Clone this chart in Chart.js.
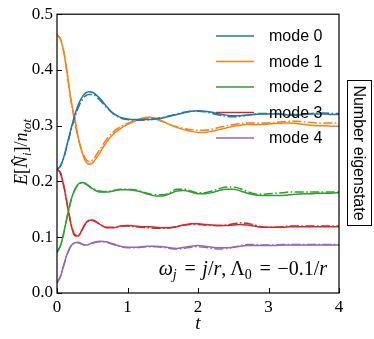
<!DOCTYPE html>
<html>
<head>
<meta charset="utf-8">
<script src="https://cdn.jsdelivr.net/npm/chart.js@4"></script>
<style>
  html, body { margin: 0; padding: 0; background: #fff; }
  #wrap { width: 374px; height: 339px; position: relative; }
</style>
</head>
<body>
<div id="wrap"><canvas id="chart" width="374" height="339"></canvas></div>
<script>
// time axis (t)
var times = [0, 0.05, 0.1, 0.15, 0.2, 0.25, 0.3, 0.35, 0.4, 0.45, 0.5,
  0.6, 0.7, 0.8, 0.9, 1.0, 1.1, 1.2, 1.3, 1.4, 1.5,
  1.6, 1.7, 1.8, 1.9, 2.0, 2.1, 2.2, 2.3, 2.4, 2.5,
  2.6, 2.7, 2.8, 2.9, 3.0, 3.1, 3.2, 3.3, 3.4, 3.5,
  3.6, 3.7, 3.8, 3.9, 4.0];

var modeLabels = ["mode 0", "mode 1", "mode 2", "mode 3", "mode 4"];
var modeColors = ["#1f77b4", "#ff7f0e", "#2ca02c", "#d62728", "#9467bd"];
var xTicks = [0, 1, 2, 3, 4];
var yTicks = [0.0, 0.1, 0.2, 0.3, 0.4, 0.5];

// solid curves
var mode0 = [0.222, 0.228, 0.245, 0.270, 0.295, 0.318, 0.337, 0.350, 0.358, 0.361, 0.360,
  0.350, 0.335, 0.322, 0.315, 0.312, 0.311, 0.311, 0.311, 0.312, 0.314,
  0.317, 0.320, 0.323, 0.326, 0.327, 0.326, 0.324, 0.321, 0.319, 0.318,
  0.318, 0.319, 0.320, 0.321, 0.321, 0.321, 0.320, 0.319, 0.319, 0.320,
  0.321, 0.321, 0.321, 0.320, 0.320];
var mode1 = [0.463, 0.455, 0.430, 0.390, 0.345, 0.315, 0.280, 0.255, 0.238, 0.231, 0.233,
  0.250, 0.270, 0.285, 0.295, 0.302, 0.308, 0.313, 0.315, 0.313, 0.308,
  0.302, 0.297, 0.293, 0.290, 0.288, 0.288, 0.290, 0.293, 0.296, 0.299,
  0.301, 0.302, 0.302, 0.302, 0.303, 0.304, 0.305, 0.305, 0.304, 0.302,
  0.301, 0.300, 0.300, 0.299, 0.299];
var mode2 = [0.073, 0.085, 0.110, 0.140, 0.167, 0.185, 0.195, 0.198, 0.197, 0.192, 0.187,
  0.181, 0.181, 0.183, 0.185, 0.185, 0.184, 0.181, 0.177, 0.174, 0.174,
  0.178, 0.183, 0.184, 0.181, 0.178, 0.178, 0.180, 0.184, 0.186, 0.186,
  0.183, 0.179, 0.176, 0.175, 0.175, 0.175, 0.175, 0.176, 0.177, 0.178,
  0.178, 0.179, 0.179, 0.179, 0.180];
var mode3 = [0.222, 0.215, 0.190, 0.155, 0.122, 0.103, 0.102, 0.112, 0.124, 0.130, 0.131,
  0.124, 0.117, 0.117, 0.120, 0.121, 0.120, 0.119, 0.119, 0.118, 0.117,
  0.117, 0.119, 0.122, 0.124, 0.124, 0.123, 0.122, 0.121, 0.121, 0.122,
  0.123, 0.122, 0.120, 0.118, 0.118, 0.118, 0.118, 0.119, 0.119, 0.119,
  0.119, 0.119, 0.119, 0.119, 0.119];
var mode4 = [0.018, 0.030, 0.052, 0.072, 0.085, 0.090, 0.091, 0.088, 0.086, 0.087, 0.090,
  0.093, 0.092, 0.088, 0.084, 0.082, 0.082, 0.083, 0.084, 0.084, 0.083,
  0.081, 0.080, 0.082, 0.084, 0.085, 0.084, 0.082, 0.081, 0.081, 0.082,
  0.084, 0.085, 0.085, 0.085, 0.085, 0.085, 0.086, 0.086, 0.086, 0.086,
  0.086, 0.086, 0.086, 0.086, 0.086];

// dash-dot curves
var mode0dd = [0.222, 0.228, 0.244, 0.268, 0.292, 0.314, 0.332, 0.345, 0.353, 0.356, 0.356,
  0.347, 0.333, 0.321, 0.314, 0.311, 0.310, 0.310, 0.311, 0.313, 0.315,
  0.318, 0.321, 0.324, 0.326, 0.326, 0.325, 0.322, 0.319, 0.317, 0.316,
  0.317, 0.319, 0.321, 0.322, 0.322, 0.322, 0.321, 0.320, 0.320, 0.321,
  0.322, 0.323, 0.323, 0.322, 0.322];
var mode1dd = [0.463, 0.455, 0.430, 0.388, 0.343, 0.308, 0.278, 0.256, 0.242, 0.236, 0.238,
  0.256, 0.275, 0.289, 0.298, 0.304, 0.309, 0.313, 0.314, 0.312, 0.307,
  0.302, 0.298, 0.295, 0.293, 0.292, 0.292, 0.294, 0.297, 0.300, 0.302,
  0.304, 0.305, 0.305, 0.305, 0.305, 0.306, 0.307, 0.308, 0.308, 0.307,
  0.306, 0.305, 0.305, 0.305, 0.305];
var mode2dd = [0.073, 0.085, 0.110, 0.140, 0.166, 0.184, 0.194, 0.197, 0.196, 0.192, 0.188,
  0.183, 0.182, 0.184, 0.186, 0.186, 0.185, 0.182, 0.178, 0.176, 0.176,
  0.180, 0.186, 0.186, 0.183, 0.180, 0.180, 0.183, 0.187, 0.190, 0.190,
  0.187, 0.182, 0.178, 0.177, 0.178, 0.179, 0.180, 0.181, 0.181, 0.181,
  0.181, 0.181, 0.181, 0.181, 0.181];
var mode3dd = [0.222, 0.215, 0.190, 0.156, 0.124, 0.105, 0.103, 0.112, 0.123, 0.129, 0.130,
  0.124, 0.118, 0.118, 0.120, 0.120, 0.119, 0.118, 0.117, 0.116, 0.116,
  0.117, 0.119, 0.122, 0.123, 0.123, 0.122, 0.121, 0.121, 0.122, 0.124,
  0.126, 0.125, 0.122, 0.119, 0.118, 0.118, 0.119, 0.120, 0.120, 0.120,
  0.120, 0.120, 0.120, 0.120, 0.120];
var mode4dd = [0.018, 0.030, 0.051, 0.071, 0.084, 0.089, 0.090, 0.088, 0.086, 0.087, 0.089,
  0.092, 0.091, 0.087, 0.083, 0.081, 0.081, 0.082, 0.083, 0.083, 0.082,
  0.080, 0.079, 0.080, 0.082, 0.083, 0.082, 0.080, 0.079, 0.080, 0.082,
  0.085, 0.087, 0.087, 0.086, 0.086, 0.086, 0.087, 0.087, 0.087, 0.087,
  0.087, 0.087, 0.087, 0.087, 0.087];

var solid = [mode0, mode1, mode2, mode3, mode4];
var dashdot = [mode0dd, mode1dd, mode2dd, mode3dd, mode4dd];

function pts(arr) {
  return arr.map(function (v, i) { return { x: times[i], y: v }; });
}

var datasets = [];
for (var i = 0; i < 5; i++) {
  datasets.push({
    label: modeLabels[i],
    data: pts(solid[i]),
    borderColor: modeColors[i],
    borderWidth: 1.5,
    pointRadius: 0,
    cubicInterpolationMode: 'monotone',
    fill: false
  });
  datasets.push({
    label: '',
    data: pts(dashdot[i]),
    borderColor: modeColors[i],
    borderWidth: 1.5,
    borderDash: [9, 2.5, 1.5, 2.5],
    pointRadius: 0,
    cubicInterpolationMode: 'monotone',
    fill: false
  });
}

var serif = '"Liberation Serif", "DejaVu Serif", serif';
var sans = '"Liberation Sans", "DejaVu Sans", sans-serif';
var mathSp = '\u2004';

// draw a row of text pieces (italic / subscript) like a math label
function drawRich(ctx, parts, x, y, size, align) {
  var total = 0;
  parts.forEach(function (p) {
    var s = p.sub ? size * 0.7 : size;
    ctx.font = (p.it ? 'italic ' : '') + s + 'px ' + serif;
    p.w = ctx.measureText(p.t).width + (p.gap || 0);
    total += p.w;
  });
  var cx = align === 'right' ? x - total : (align === 'center' ? x - total / 2 : x);
  parts.forEach(function (p) {
    var s = p.sub ? size * 0.7 : size;
    ctx.font = (p.it ? 'italic ' : '') + s + 'px ' + serif;
    ctx.fillText(p.t, cx, y + (p.sub ? size * 0.22 : 0));
    cx += p.w;
  });
}

var extras = {
  id: 'extras',
  afterDatasetsDraw: function (chart) {
    var ctx = chart.ctx;
    var a = chart.chartArea;
    var xs = chart.scales.x, ys = chart.scales.y;
    ctx.save();
    ctx.strokeStyle = '#000';
    ctx.lineWidth = 1.2;
    ctx.setLineDash([]);
    ctx.strokeRect(a.left, a.top, a.right - a.left, a.bottom - a.top);
    // inward ticks
    ctx.lineWidth = 1;
    xTicks.forEach(function (t) {
      var px = Math.round(xs.getPixelForValue(t)) + 0.5;
      ctx.beginPath(); ctx.moveTo(px, a.bottom); ctx.lineTo(px, a.bottom - 5); ctx.stroke();
    });
    yTicks.forEach(function (t) {
      var py = Math.round(ys.getPixelForValue(t)) + 0.5;
      ctx.beginPath(); ctx.moveTo(a.left, py); ctx.lineTo(a.left + 5, py); ctx.stroke();
    });

    // legend (solid lines only)
    ctx.textBaseline = 'middle';
    ctx.textAlign = 'left';
    ctx.font = '16px ' + sans;
    ctx.fillStyle = '#000';
    var ly = 36;
    chart.data.datasets.forEach(function (ds) {
      if (!ds.label) return;
      ctx.strokeStyle = ds.borderColor;
      ctx.lineWidth = 1.5;
      ctx.beginPath(); ctx.moveTo(216, ly); ctx.lineTo(254, ly); ctx.stroke();
      ctx.fillText(ds.label, 269, ly + 1);
      ly += 25.5;
    });

    // annotation
    ctx.textBaseline = 'alphabetic';
    drawRich(ctx, [
      { t: 'ω', it: true }, { t: 'j', it: true, sub: true, gap: 1 }, { t: mathSp + '=' + mathSp },
      { t: 'j', it: true }, { t: '/' }, { t: 'r', it: true }, { t: ',\u2009Λ' },
      { t: '0', sub: true, gap: 1 }, { t: mathSp + '=' + mathSp + '−0.1/' }, { t: 'r', it: true }
    ], 327, 275, 20, 'right');

    // x title
    drawRich(ctx, [{ t: 't', it: true }], 198, 329, 19, 'center');

    // y title
    ctx.save();
    ctx.translate(27, 152);
    ctx.rotate(-Math.PI / 2);
    drawRich(ctx, [
      { t: 'E', it: true }, { t: '[' }, { t: 'N\u0302', it: true },
      { t: 'i', it: true, sub: true }, { t: ']/' }, { t: 'n', it: true },
      { t: 'tot', it: true, sub: true }
    ], 0, 0, 18, 'center');
    ctx.restore();

    // side box
    ctx.strokeStyle = '#000';
    ctx.lineWidth = 1;
    ctx.strokeRect(347.5, 80.5, 24, 145);
    ctx.save();
    ctx.translate(359, 153);
    ctx.rotate(Math.PI / 2);
    ctx.font = '16px ' + sans;
    ctx.textAlign = 'center';
    ctx.textBaseline = 'middle';
    ctx.fillText('Number eigenstate', 0, 1);
    ctx.restore();
    ctx.restore();
  }
};

new Chart(document.getElementById('chart'), {
  type: 'line',
  data: { datasets: datasets },
  options: {
    responsive: false,
    animation: false,
    layout: { padding: { left: 0, right: 35, top: 12, bottom: 0 } },
    plugins: { legend: { display: false }, tooltip: { enabled: false } },
    scales: {
      x: {
        type: 'linear', min: 0, max: 4,
        afterFit: function (s) { s.height = 46; },
        afterBuildTicks: function (s) { s.ticks = xTicks.map(function (v) { return { value: v }; }); },
        grid: { display: false, drawTicks: false },
        border: { display: false },
        ticks: { color: '#000', padding: 4, font: { family: serif, size: 17 }, maxRotation: 0,
          callback: function (v) { return String(v); } }
      },
      y: {
        min: 0, max: 0.5,
        afterFit: function (s) { s.width = 57; },
        afterBuildTicks: function (s) { s.ticks = yTicks.map(function (v) { return { value: v }; }); },
        grid: { display: false, drawTicks: false },
        border: { display: false },
        ticks: { color: '#000', padding: 4, font: { family: serif, size: 17 },
          callback: function (v) { return v.toFixed(1); } }
      }
    }
  },
  plugins: [extras]
});
</script>
</body>
</html>
